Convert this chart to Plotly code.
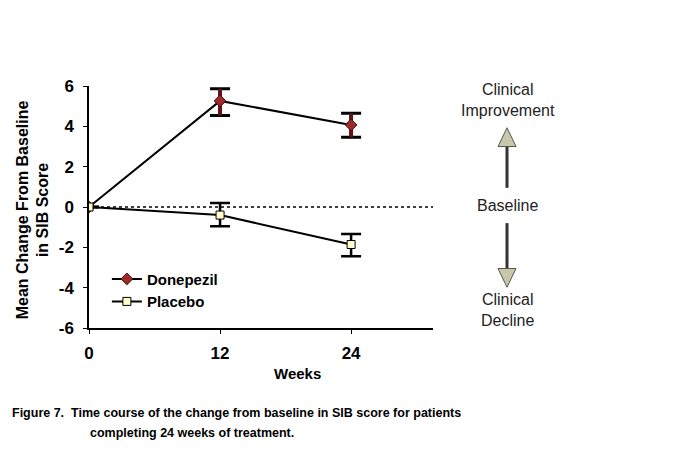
import plotly.graph_objects as go

weeks = [0, 12, 24]
donepezil = [0, 5.26, 4.07]
donepezil_err_plus = [0, 0.6, 0.58]
donepezil_err_minus = [0, 0.72, 0.61]
placebo = [0, -0.4, -1.86]
placebo_err_plus = [0, 0.6, 0.52]
placebo_err_minus = [0, 0.56, 0.58]
y_ticks = [-6, -4, -2, 0, 2, 4, 6]
y_tick_labels = ["-6", "-4", "-2", "0", "2", "4", "6"]
x_ticks = [0, 12, 24]

FONT = "Arial, 'Liberation Sans', sans-serif"

fig = go.Figure()

# baseline dotted line
fig.add_trace(go.Scatter(x=[0, 31.5], y=[0, 0], mode="lines",
                         line=dict(color="black", width=1.5, dash="dot"),
                         showlegend=False, hoverinfo="skip"))

# error bars: black caps, coloured stems (stem overlay drawn as a second error set)
fig.add_trace(go.Scatter(
    x=weeks, y=donepezil, mode="none", showlegend=False, hoverinfo="skip",
    error_y=dict(type="data", symmetric=False, array=donepezil_err_plus,
                 arrayminus=donepezil_err_minus, color="black", thickness=3, width=10),
))
fig.add_trace(go.Scatter(
    x=weeks, y=donepezil, mode="none", showlegend=False, hoverinfo="skip",
    error_y=dict(type="data", symmetric=False, array=donepezil_err_plus,
                 arrayminus=donepezil_err_minus, color="#5e1418", thickness=4, width=0),
))
fig.add_trace(go.Scatter(
    x=weeks, y=placebo, mode="none", showlegend=False, hoverinfo="skip",
    error_y=dict(type="data", symmetric=False, array=placebo_err_plus,
                 arrayminus=placebo_err_minus, color="black", thickness=2.5, width=10),
))

fig.add_trace(go.Scatter(
    x=weeks, y=donepezil, mode="lines+markers", name="Donepezil",
    line=dict(color="black", width=2),
    marker=dict(symbol="diamond", size=9, color="#9e2a2a", line=dict(color="#4a0a0a", width=1)),
))
fig.add_trace(go.Scatter(
    x=weeks, y=placebo, mode="lines+markers", name="Placebo",
    line=dict(color="black", width=2),
    marker=dict(symbol="square", size=8, color="#ffffcc", line=dict(color="black", width=1)),
))

fig.update_layout(
    width=678, height=473,
    margin=dict(l=81, r=253, t=78, b=153),
    paper_bgcolor="white", plot_bgcolor="white",
    font=dict(family=FONT, color="black"),
    showlegend=True,
    legend=dict(x=0.052, y=0.27, xanchor="left", yanchor="top",
                bgcolor="rgba(0,0,0,0)", font=dict(size=15, weight="bold"),
                itemwidth=30, tracegroupgap=2),
    xaxis=dict(range=[0, 31.5], tickvals=x_ticks, showgrid=False, zeroline=False,
               showline=True, linecolor="black", linewidth=1.5,
               ticks="outside", ticklen=4, tickcolor="black",
               tickfont=dict(size=17, weight="bold"), ticklabelstandoff=5),
    yaxis=dict(range=[-6, 6], tickvals=y_ticks, ticktext=y_tick_labels,
               showgrid=False, zeroline=False,
               showline=True, linecolor="black", linewidth=1.5,
               ticks="outside", ticklen=4, tickcolor="black",
               tickfont=dict(size=17, weight="bold"), ticklabelstandoff=6),
)

anns = []
anns.append(dict(x=19.1, y=-0.19, xref="x", yref="paper", text="<b>Weeks</b>", showarrow=False,
                 font=dict(size=15), xanchor="center", yanchor="middle"))
anns.append(dict(x=-0.163, y=0.49, xref="paper", yref="paper",
                 text="<b>Mean Change From Baseline<br>in SIB Score</b>", showarrow=False,
                 textangle=-90, font=dict(size=16), xanchor="center", yanchor="middle"))
anns.append(dict(x=1.218, y=5.3, xref="paper", yref="y", text="Clinical<br>Improvement",
                 showarrow=False, font=dict(size=16, color="#222"), xanchor="center", yanchor="middle"))
anns.append(dict(x=1.218, y=0.05, xref="paper", yref="y", text="Baseline",
                 showarrow=False, font=dict(size=16, color="#222"), xanchor="center", yanchor="middle"))
anns.append(dict(x=1.218, y=-5.1, xref="paper", yref="y", text="Clinical<br>Decline",
                 showarrow=False, font=dict(size=16, color="#222"), xanchor="center", yanchor="middle"))
anns.append(dict(x=-0.23, y=-0.35, xref="paper", yref="paper",
                 text="<b>Figure 7.  Time course of the change from baseline in SIB score for patients</b>",
                 showarrow=False, font=dict(size=12.5), xanchor="left", yanchor="middle"))
anns.append(dict(x=-0.004, y=-0.435, xref="paper", yref="paper",
                 text="<b>completing 24 weeks of treatment.</b>",
                 showarrow=False, font=dict(size=12.5), xanchor="left", yanchor="middle"))
fig.update_layout(annotations=anns)

# arrows (shaft + triangular head) in paper-x / data-y coords
px = 1.0 / 344
ax = (507 - 89) * px
shapes = []
shapes.append(dict(type="line", xref="paper", yref="y", x0=ax, x1=ax, y0=0.95, y1=3.1,
                   line=dict(color="#333", width=3)))
shapes.append(dict(type="path", xref="paper", yref="y",
                   path=f"M {ax-9*px},{3.0} L {ax},{3.93} L {ax+9*px},{3.0} Z",
                   fillcolor="#c8c8a8", line=dict(color="#555", width=1)))
shapes.append(dict(type="line", xref="paper", yref="y", x0=ax, x1=ax, y0=-0.8, y1=-3.1,
                   line=dict(color="#333", width=3)))
shapes.append(dict(type="path", xref="paper", yref="y",
                   path=f"M {ax-9*px},{-3.05} L {ax},{-3.98} L {ax+9*px},{-3.05} Z",
                   fillcolor="#c8c8a8", line=dict(color="#555", width=1)))
fig.update_layout(shapes=shapes)

fig.write_html("out.html")
